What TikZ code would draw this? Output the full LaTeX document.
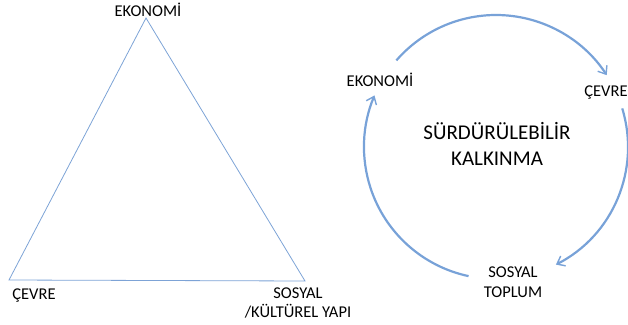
\documentclass[tikz,border=0pt]{standalone}
\usepackage{fontspec}
\setmainfont{Carlito}
\usepackage{tikz}
\usetikzlibrary{positioning, arrows.meta, calc}
\definecolor{lineblue}{RGB}{125,163,214}
\definecolor{arcblue}{RGB}{120,162,216}
\tikzset{
    cornerlbl/.style={font=\fontsize{16.5}{19.5}\selectfont, inner sep=1pt, align=center},
    titlelbl/.style={font=\fontsize{21}{26}\selectfont, inner sep=1pt, align=center},
    triline/.style={draw=lineblue, line width=0.8pt},
    cycarrow/.style={draw=arcblue, line width=2.2pt, ->},
}
\begin{document}
\begin{tikzpicture}[
    x=1pt, y=-1pt,
    >={Straight Barb[length=7pt, width=11pt, line width=1.4pt]},
]
\useasboundingbox (0,0) rectangle (628,324);

% triangle
\coordinate (top) at (146,18);
\coordinate (left) at (9,280);
\coordinate (right) at (305,281);
\draw[triline] (top) -- (left) -- (right) -- cycle;
\node[cornerlbl] (ekoT) at (148,10) {EKONOMİ};
\node[cornerlbl] (cevT) at (34,296) {ÇEVRE};
\node[cornerlbl] (sosT) at (298,303) {SOSYAL\\/KÜLTÜREL YAPI};

% cycle
\coordinate (ctr) at (496,147);
\node[titlelbl] (title) at (497,144) {SÜRDÜRÜLEBİLİR\\KALKINMA};
\node[cornerlbl] (ekoC) at (380,80) {EKONOMİ};
\node[cornerlbl] (cevC) at (606,93) {ÇEVRE};
\node[cornerlbl] (sosC) at (513,282) {SOSYAL\\TOPLUM};
\draw[cycarrow] (ctr) ++(-139:132) arc[start angle=-139, end angle=-33, radius=132];
\draw[cycarrow] (ctr) ++(-17:132) arc[start angle=-17, end angle=63, radius=132];
\draw[cycarrow] (ctr) ++(102:132) arc[start angle=102, end angle=203, radius=132];
\end{tikzpicture}
\end{document}
